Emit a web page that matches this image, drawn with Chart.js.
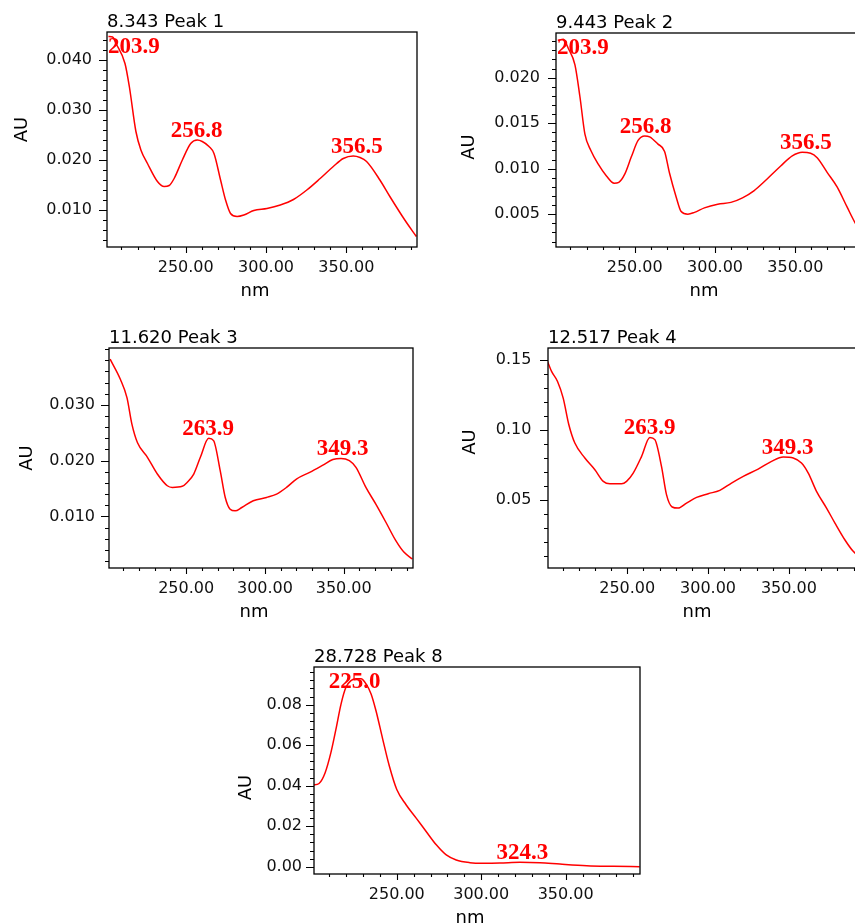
<!DOCTYPE html>
<html>
<head>
<meta charset="utf-8">
<script src="https://cdn.jsdelivr.net/npm/chart.js@4.4.1/dist/chart.umd.min.js"></script>
<style>
  html, body { margin: 0; padding: 0; background: #fff; }
  body { position: relative; width: 855px; height: 923px; overflow: hidden; }
  canvas { position: absolute; }
</style>
</head>
<body>
<canvas id="c1"></canvas>
<canvas id="c2"></canvas>
<canvas id="c3"></canvas>
<canvas id="c4"></canvas>
<canvas id="c5"></canvas>
<script>
// ---- shared x axis (wavelength, nm) ----
const X_MIN = 201, X_MAX = 394;
const xMajor = [250, 300, 350];
const xMinor = [210, 220, 230, 240, 250, 260, 270, 280, 290, 300, 310, 320, 330, 340, 350, 360, 370, 380, 390];

// ---- Peak 1 (8.343) ----
const nm1 = [201.9, 204.5, 206.6, 212.2, 214.9, 219.0, 222.1, 226.2, 232.4, 236.6, 239.7, 242.8, 247.9, 253.1, 257.2, 260.3, 264.5, 267.6, 271.7, 274.8, 277.9, 282.0, 286.2, 292.4, 300.6, 308.9, 317.1, 325.4, 333.7, 341.9, 348.1, 354.3, 358.5, 362.6, 370.9, 377.1, 386.4, 393.6];
const au1 = [0.0447, 0.0446, 0.0433, 0.0393, 0.0347, 0.0257, 0.0220, 0.0193, 0.0157, 0.0147, 0.0149, 0.0163, 0.0200, 0.0233, 0.0240, 0.0237, 0.0227, 0.0213, 0.0160, 0.0120, 0.0093, 0.0087, 0.0090, 0.0099, 0.0103, 0.0110, 0.0121, 0.0140, 0.0163, 0.0187, 0.0203, 0.0208, 0.0205, 0.0197, 0.0160, 0.0127, 0.0080, 0.0047];
const peakNm1 = [203.9, 256.8, 356.5];
const peakAu1 = [0.0447, 0.0240, 0.0208];
const yMajor1 = [0.010, 0.020, 0.030, 0.040];

// ---- Peak 2 (9.443) ----
const nm2 = [202.1, 205.6, 208.7, 212.8, 215.9, 219.0, 222.7, 227.3, 232.4, 237.2, 240.1, 243.8, 247.9, 252.1, 256.2, 259.3, 264.5, 268.6, 271.7, 275.8, 278.9, 283.1, 287.2, 293.4, 301.7, 309.9, 317.1, 324.4, 332.6, 340.9, 348.1, 354.3, 359.5, 363.6, 369.8, 376.0, 382.2, 387.4, 390.5, 394.0];
const au2 = [0.0241, 0.0242, 0.0232, 0.0214, 0.0179, 0.0138, 0.0120, 0.0105, 0.0092, 0.0084, 0.0085, 0.0094, 0.0113, 0.0131, 0.0136, 0.0135, 0.0127, 0.0119, 0.0095, 0.0069, 0.0053, 0.0050, 0.0052, 0.0057, 0.0061, 0.0063, 0.0068, 0.0076, 0.0089, 0.0103, 0.0114, 0.0118, 0.0117, 0.0112, 0.0096, 0.0080, 0.0058, 0.0040, 0.0032, 0.0024];
const peakNm2 = [203.9, 256.8, 356.5];
const peakAu2 = [0.0242, 0.0136, 0.0118];
const yMajor2 = [0.005, 0.010, 0.015, 0.020];

// ---- Peak 3 (11.620) ----
const nm3 = [201.7, 208.2, 212.4, 215.5, 219.1, 225.4, 231.7, 238.0, 241.2, 247.5, 250.6, 254.8, 259.0, 264.3, 267.4, 271.6, 274.8, 277.9, 281.1, 285.3, 292.6, 301.0, 307.4, 313.7, 320.0, 328.4, 336.8, 343.1, 348.3, 353.6, 357.8, 364.1, 370.4, 376.7, 383.0, 388.2, 393.5];
const au3 = [0.0382, 0.0346, 0.0313, 0.0266, 0.0232, 0.0206, 0.0176, 0.0155, 0.0152, 0.0154, 0.0161, 0.0176, 0.0206, 0.0240, 0.0236, 0.0182, 0.0134, 0.0113, 0.0110, 0.0116, 0.0128, 0.0134, 0.0140, 0.0152, 0.0167, 0.0179, 0.0192, 0.0202, 0.0204, 0.0200, 0.0188, 0.0152, 0.0122, 0.0090, 0.0057, 0.0036, 0.0024];
const peakNm3 = [263.9, 349.3];
const peakAu3 = [0.0240, 0.0204];
const yMajor3 = [0.010, 0.020, 0.030];

// ---- Peak 4 (12.517) ----
const nm4 = [200.1, 203.2, 206.9, 210.4, 213.9, 217.6, 223.8, 230.0, 235.2, 239.3, 246.5, 249.6, 253.7, 258.9, 264.0, 267.1, 271.2, 274.3, 277.8, 281.5, 286.7, 292.9, 300.1, 307.3, 314.5, 321.8, 331.0, 339.3, 346.5, 352.7, 357.8, 362.0, 367.1, 373.3, 378.5, 384.6, 389.8, 394.0];
const au4 = [0.1505, 0.1417, 0.1345, 0.1226, 0.1036, 0.0905, 0.0798, 0.0714, 0.0631, 0.0614, 0.0614, 0.0631, 0.0690, 0.0810, 0.0945, 0.0929, 0.0738, 0.0536, 0.0448, 0.0440, 0.0476, 0.0517, 0.0543, 0.0567, 0.0619, 0.0667, 0.0719, 0.0774, 0.0805, 0.0798, 0.0762, 0.0690, 0.0560, 0.0440, 0.0333, 0.0214, 0.0131, 0.0090];
const peakNm4 = [263.9, 349.3];
const peakAu4 = [0.0945, 0.0805];
const yMajor4 = [0.05, 0.10, 0.15];

// ---- Peak 8 (28.728) ----
const nm5 = [200.5, 204.0, 207.6, 211.0, 214.0, 217.0, 219.9, 222.9, 225.8, 228.8, 231.8, 234.8, 237.7, 241.7, 245.6, 250.0, 255.5, 261.5, 267.4, 273.4, 279.3, 285.2, 293.2, 301.0, 311.0, 322.9, 334.8, 346.6, 362.5, 378.3, 393.8];
const au5 = [0.0403, 0.0411, 0.0464, 0.0563, 0.0679, 0.0803, 0.0886, 0.0919, 0.0928, 0.0928, 0.0903, 0.0853, 0.0770, 0.0629, 0.0497, 0.0381, 0.0306, 0.0240, 0.0174, 0.0108, 0.0058, 0.0033, 0.0020, 0.0017, 0.0018, 0.0022, 0.0020, 0.0013, 0.0005, 0.0002, 0.0000];
const peakNm5 = [225.0, 324.3];
const peakAu5 = [0.0928, 0.0022];
const yMajor5 = [0.00, 0.02, 0.04, 0.06, 0.08];

// panel layout: box = plot frame in page pixels [left, top, right, bottom]
const panels = [
  { id: 'c1', title: '8.343 Peak 1', nm: nm1, au: au1, pNm: peakNm1, pAu: peakAu1, yMajor: yMajor1,
    yMin: 0.0026, yMax: 0.0456, yStep: 0.002, dec: 3, box: [107, 32, 417, 247], labelGap: 15, auDist: 87, auShift: -10 },
  { id: 'c2', title: '9.443 Peak 2', nm: nm2, au: au2, pNm: peakNm2, pAu: peakAu2, yMajor: yMajor2,
    yMin: 0.0014, yMax: 0.0249, yStep: 0.001, dec: 3, box: [556, 33, 866, 247], labelGap: 16, auDist: 89, auShift: 7 },
  { id: 'c3', title: '11.620 Peak 3', nm: nm3, au: au3, pNm: peakNm3, pAu: peakAu3, yMajor: yMajor3,
    yMin: 0.00075, yMax: 0.0402, yStep: 0.002, dec: 3, box: [109, 348, 413, 568], labelGap: 14, auDist: 84, auShift: 0 },
  { id: 'c4', title: '12.517 Peak 4', nm: nm4, au: au4, pNm: peakNm4, pAu: peakAu4, yMajor: yMajor4,
    yMin: 0.0012, yMax: 0.1584, yStep: 0.01, dec: 2, box: [548, 348, 860, 568], labelGap: 16.6, auDist: 80, auShift: -16 },
  { id: 'c5', title: '28.728 Peak 8', nm: nm5, au: au5, pNm: peakNm5, pAu: peakAu5, yMajor: yMajor5,
    yMin: -0.0036, yMax: 0.0986, yStep: 0.004, dec: 2, box: [313.5, 667, 639, 874], labelGap: 12, auDist: 70, auShift: 17 }
];

const PAD_L = 110, PAD_T = 35, PAD_R = 10, PAD_B = 60;
const SANS = '"DejaVu Sans", sans-serif';
const SERIF = '"Liberation Serif", "Times New Roman", serif';
const isIn = (arr, v) => arr.some(m => Math.abs(m - v) < 1e-9);

function frameTicks(p) {
  return {
    id: 'frameTicks',
    afterDatasetsDraw(chart) {
      const ctx = chart.ctx, a = chart.chartArea;
      const xs = chart.scales.x, ys = chart.scales.y;
      // peak labels
      ctx.save();
      ctx.font = 'bold 23px ' + SERIF;
      ctx.fillStyle = '#ff0000';
      ctx.textBaseline = 'alphabetic';
      ctx.textAlign = 'left';
      p.pNm.forEach((w, i) => {
        const txt = w.toFixed(1);
        const tw = ctx.measureText(txt).width;
        let x = xs.getPixelForValue(w) - tw / 2;
        x = Math.max(a.left + 1, Math.min(a.right - tw - 1, x));
        let y = ys.getPixelForValue(p.pAu[i]) - 3;
        y = Math.max(a.top + 21, y);
        ctx.fillText(txt, x, y);
      });
      ctx.restore();
    },
    afterDraw(chart) {
      const ctx = chart.ctx, a = chart.chartArea;
      const xs = chart.scales.x, ys = chart.scales.y;
      ctx.save();
      ctx.strokeStyle = '#000';
      ctx.lineWidth = 1.3;
      ctx.strokeRect(a.left, a.top, a.right - a.left, a.bottom - a.top);
      ctx.lineWidth = 1.1;
      ctx.beginPath();
      xs.ticks.forEach(t => {
        const px = Math.round(xs.getPixelForValue(t.value)) + 0.5;
        const len = isIn(xMajor, t.value) ? 6 : 3;
        ctx.moveTo(px, a.bottom);
        ctx.lineTo(px, a.bottom + len);
      });
      ys.ticks.forEach(t => {
        const py = Math.round(ys.getPixelForValue(t.value)) + 0.5;
        if (py < a.top || py > a.bottom) return;
        const len = isIn(p.yMajor, t.value) ? 8 : 4;
        ctx.moveTo(a.left - len, py);
        ctx.lineTo(a.left, py);
      });
      ctx.stroke();

      // title above the frame
      ctx.fillStyle = '#000';
      ctx.font = '18px ' + SANS;
      ctx.textAlign = 'left';
      ctx.textBaseline = 'alphabetic';
      ctx.fillText(p.title, a.left, a.top - 5);

      // axis titles
      ctx.textAlign = 'center';
      ctx.fillText('nm', (a.left + a.right) / 2 - 7, a.bottom + 49);
      ctx.translate(a.left - p.auDist + 6.5, (a.top + a.bottom) / 2 + p.auShift);
      ctx.rotate(-Math.PI / 2);
      ctx.fillText('AU', 0, 0);
      ctx.restore();
    }
  };
}

panels.forEach(p => {
  const [L, T, R, B] = p.box;
  const canvas = document.getElementById(p.id);
  canvas.width = Math.round(R - L) + PAD_L + PAD_R;
  canvas.height = Math.round(B - T) + PAD_T + PAD_B;
  canvas.style.left = (L - PAD_L) + 'px';
  canvas.style.top = (T - PAD_T) + 'px';

  const yTicks = [];
  for (let k = Math.ceil(p.yMin / p.yStep - 1e-9); k * p.yStep <= p.yMax + 1e-12; k++) {
    yTicks.push(Math.round(k * p.yStep * 1e6) / 1e6);
  }

  new Chart(canvas, {
    type: 'line',
    data: {
      datasets: [{
        data: p.nm.map((w, i) => ({ x: w, y: p.au[i] })),
        borderColor: '#ff0000',
        borderWidth: 1.5,
        pointRadius: 0,
        fill: false,
        cubicInterpolationMode: 'monotone'
      }]
    },
    options: {
      responsive: false,
      animation: false,
      events: [],
      layout: { padding: { top: PAD_T, right: PAD_R, left: 0, bottom: 0 } },
      plugins: { legend: { display: false }, tooltip: { enabled: false } },
      scales: {
        x: {
          type: 'linear',
          min: X_MIN,
          max: X_MAX,
          afterBuildTicks: s => { s.ticks = xMinor.map(v => ({ value: v })); },
          afterFit: s => { s.height = PAD_B; },
          ticks: {
            autoSkip: false, maxRotation: 0, padding: 5, color: '#111',
            font: { family: SANS, size: 16 },
            callback: v => isIn(xMajor, v) ? v.toFixed(2) : ''
          },
          grid: { drawOnChartArea: false, drawTicks: true, tickLength: 6, tickColor: 'rgba(0,0,0,0)' },
          border: { display: false }
        },
        y: {
          type: 'linear',
          min: p.yMin,
          max: p.yMax,
          afterBuildTicks: s => { s.ticks = yTicks.map(v => ({ value: v })); },
          afterFit: s => { s.width = PAD_L; },
          ticks: {
            autoSkip: false, padding: p.labelGap - 8, color: '#111',
            font: { family: SANS, size: 16 },
            callback: v => isIn(p.yMajor, v) ? v.toFixed(p.dec) : ''
          },
          grid: { drawOnChartArea: false, drawTicks: true, tickLength: 8, tickColor: 'rgba(0,0,0,0)' },
          border: { display: false }
        }
      }
    },
    plugins: [frameTicks(p)]
  });
});
</script>
</body>
</html>
